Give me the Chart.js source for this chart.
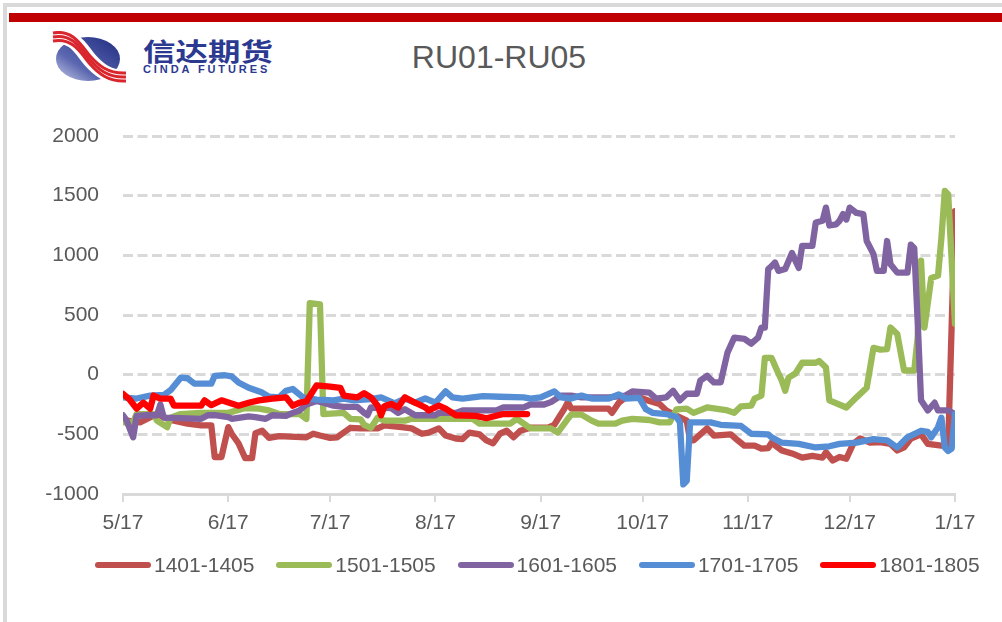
<!DOCTYPE html>
<html>
<head>
<meta charset="utf-8">
<script src="https://cdn.jsdelivr.net/npm/chart.js@4.4.1/dist/chart.umd.min.js"></script>
<style>
body{margin:0;background:#fff;}
#wrap{position:relative;width:1002px;height:622px;overflow:hidden;font-family:"Liberation Sans",Arial,sans-serif;background:#fff;}
#frame{position:absolute;left:3px;top:3px;width:1010px;height:630px;border-left:4px solid #d9d9d9;border-top:4px solid #d9d9d9;}
#bar{position:absolute;left:9px;top:13px;width:993px;height:9px;background:#c00000;}
#title{position:absolute;left:0;width:998px;top:41px;text-align:center;font-size:32px;line-height:32px;color:#595959;}
#logo{position:absolute;left:50px;top:31px;}
#cn{position:absolute;left:143px;top:36px;font-family:"Noto Sans CJK SC",sans-serif;font-weight:bold;font-size:25px;line-height:28px;color:#2b3990;transform:scaleX(1.3);transform-origin:0 0;}
#en{position:absolute;left:143px;top:63px;font-family:"Liberation Sans",Arial,sans-serif;font-weight:bold;font-size:11px;line-height:12px;letter-spacing:2.9px;color:#2b3990;}
canvas{position:absolute;left:0;top:0;}
.lg{position:absolute;top:554px;height:22px;}
.lg .sw{position:absolute;left:0;top:8px;width:56px;height:6px;border-radius:3px;}
.lg .tx{position:absolute;left:59px;top:0;font-size:21px;line-height:22px;color:#595959;white-space:nowrap;}
</style>
</head>
<body>
<div id="wrap">
  <div id="frame"></div>
  <div id="bar"></div>
  <svg id="logo" width="78" height="52" viewBox="0 0 78 52">
    <defs>
      <linearGradient id="g" x1="0" y1="1" x2="1" y2="0">
        <stop offset="0" stop-color="#c9cde8"/>
        <stop offset="0.35" stop-color="#5b67b0"/>
        <stop offset="1" stop-color="#1f2c80"/>
      </linearGradient>
    </defs>
    <ellipse cx="38" cy="28" rx="32" ry="22" fill="url(#g)"/>
    <path d="M3,6 C24,2 32,20 40,29 S58,47 76,46" fill="none" stroke="#fff" stroke-width="15"/>
    <path d="M3,2 C24,-2 32,16 40,25 S58,43 76,42" fill="none" stroke="#d9262e" stroke-width="3"/>
    <path d="M3,6 C24,2 32,20 40,29 S58,47 76,46" fill="none" stroke="#d9262e" stroke-width="3"/>
    <path d="M3,10 C24,6 32,24 40,33 S58,51 76,50" fill="none" stroke="#d9262e" stroke-width="3"/>
  </svg>
  <div id="cn">信达期货</div>
  <div id="en">CINDA FUTURES</div>
  <div id="title">RU01-RU05</div>
  <canvas id="c" width="1002" height="622"></canvas>
  <div id="legend"></div>
</div>
<script>
// series names / colours
var seriesNames = ['1401-1405', '1501-1505', '1601-1605', '1701-1705', '1801-1805']
var seriesColors = ['#C0504D', '#9BBB59', '#8064A2', '#558ED5', '#FF0000']

// x axis: days after 5/17
var tickDays = [0, 31, 61, 92, 123, 153, 184, 214, 245]
var tickLabels = ['5/17', '6/17', '7/17', '8/17', '9/17', '10/17', '11/17', '12/17', '1/17']
var yTicks = [-1000, -500, 0, 500, 1000, 1500, 2000]

var days1401 = [0,5,10,14,19,23,26,27,29,31,32,34,36,38,39,41,43,46,54,56,58,61,63,65,67,70,75,77,82,85,88,90,93,95,98,100,102,105,107,109,111,113,115,117,120,125,127,130,131,132,143,144,146,148,152,155,158,160,162,166,167,168,170,172,174,179,181,183,186,188,190,191,194,197,200,203,206,207,209,211,213,215,217,220,223,226,228,230,232,235,237,241,243,244,245]
var vals1401 = [-380,-400,-330,-380,-410,-425,-425,-690,-690,-440,-495,-575,-700,-700,-490,-470,-530,-515,-525,-495,-510,-530,-525,-485,-445,-450,-450,-425,-440,-450,-495,-485,-450,-510,-535,-540,-485,-500,-550,-575,-495,-470,-525,-470,-445,-445,-420,-285,-230,-285,-285,-320,-235,-190,-190,-220,-245,-300,-330,-385,-550,-550,-500,-450,-510,-500,-550,-595,-595,-620,-615,-570,-635,-660,-695,-680,-695,-650,-720,-690,-705,-580,-535,-570,-565,-580,-635,-610,-535,-500,-580,-595,-590,395,1370]

var days1501 = [0,3,4,9,10,13,14,17,23,31,36,40,43,46,52,54,55,58,59,65,67,70,71,73,75,77,83,85,92,103,105,114,116,118,120,126,128,131,132,135,138,140,145,147,150,155,158,161,163,166,168,172,178,180,182,185,186,188,189,191,193,194,195,196,198,200,204,205,207,208,213,216,219,221,223,225,226,228,230,233,234,235,236,238,240,241,242,243,245]
var vals1501 = [-400,-400,-330,-330,-385,-440,-360,-330,-320,-320,-280,-285,-300,-330,-330,-370,600,590,-330,-320,-370,-375,-420,-445,-360,-385,-385,-370,-370,-370,-410,-410,-370,-410,-450,-450,-485,-370,-335,-335,-385,-410,-410,-385,-370,-380,-400,-400,-290,-285,-320,-275,-300,-320,-265,-260,-200,-175,140,140,10,-50,-135,-25,10,100,100,115,60,-215,-275,-190,-110,225,210,215,395,340,35,35,310,955,395,810,830,1145,1540,1510,425]

var days1601 = [0,1,3,4,7,10,11,12,17,23,25,27,31,32,37,39,42,44,48,50,52,54,57,59,62,65,69,71,72,73,79,81,83,86,92,93,98,100,110,112,118,120,124,126,129,132,135,143,148,150,155,157,160,162,164,166,169,170,172,174,176,178,180,183,185,187,188,189,190,191,192,193,195,197,198,199,200,203,204,206,207,208,210,211,212,213,214,216,218,219,221,222,224,225,226,228,231,232,233,234,235,237,239,240,243,245]
var vals1601 = [-340,-380,-525,-345,-340,-340,-250,-360,-365,-370,-340,-340,-355,-370,-350,-355,-370,-340,-345,-320,-300,-250,-220,-235,-260,-270,-270,-320,-340,-275,-280,-320,-290,-340,-340,-320,-320,-300,-300,-275,-275,-250,-250,-230,-175,-175,-190,-190,-175,-140,-150,-200,-190,-135,-215,-160,-160,-50,-10,-65,-65,185,310,300,260,310,395,395,885,910,940,870,885,1020,955,895,1080,1080,1275,1290,1400,1250,1260,1290,1345,1300,1400,1355,1345,1120,1010,870,870,1120,925,855,855,1090,1060,450,-215,-300,-235,-300,-300,-330]

var days1701 = [0,4,8,12,14,17,19,21,26,27,30,32,34,37,41,43,46,48,50,53,57,62,65,68,73,76,78,80,83,86,89,92,95,97,100,106,111,118,120,123,127,129,132,135,138,143,146,148,152,154,156,160,163,164,165,166,167,173,176,182,185,190,191,194,199,204,208,211,216,221,225,228,231,235,237,238,240,241,242,243,244,245]
var vals1701 = [-190,-200,-175,-170,-130,-25,-30,-75,-75,-10,-5,-15,-65,-110,-150,-185,-190,-135,-120,-190,-210,-215,-200,-215,-205,-190,-215,-240,-200,-235,-200,-235,-140,-190,-200,-180,-185,-190,-200,-190,-140,-190,-200,-175,-200,-200,-165,-200,-195,-290,-320,-330,-355,-400,-920,-890,-400,-400,-420,-430,-495,-500,-525,-570,-580,-610,-600,-580,-570,-540,-550,-610,-525,-470,-480,-525,-440,-360,-610,-640,-620,-330]

var days1801 = [0,2,4,6,8,9,11,14,15,23,24,26,29,34,37,40,44,48,50,52,54,56,57,61,64,65,69,71,73,75,76,77,79,81,83,86,89,90,93,95,98,104,107,112,119]
var vals1801 = [-160,-210,-285,-235,-285,-175,-200,-200,-260,-260,-215,-255,-215,-260,-235,-215,-200,-190,-260,-235,-225,-135,-90,-100,-110,-175,-190,-155,-190,-260,-340,-265,-245,-275,-190,-235,-275,-300,-260,-285,-340,-345,-365,-330,-330]

var seriesDays = [days1401, days1501, days1601, days1701, days1801]
var seriesVals = [vals1401, vals1501, vals1601, vals1701, vals1801]

var datasets = seriesNames.map(function(name, i){
    return {
        label: name,
        data: seriesDays[i].map(function(d, j){ return {x: d, y: seriesVals[i][j]} }),
        borderColor: seriesColors[i],
        backgroundColor: seriesColors[i],
        borderWidth: 6.3,
        borderJoinStyle: 'round',
        borderCapStyle: 'round',
        pointRadius: 0,
        tension: 0,
        fill: false,
        order: seriesNames.length - i
    }
})

var ctx = document.getElementById('c')
var grafico = new Chart(ctx, {
    type: 'line',
    data: { datasets: datasets },
    options: {
        responsive: false,
        animation: false,
        events: [],
        layout: { padding: { left: 20, right: 47, top: 136, bottom: 78 } },
        plugins: { legend: { display: false }, tooltip: { enabled: false }, title: { display: false } },
        scales: {
            x: {
                type: 'linear',
                min: tickDays[0],
                max: tickDays[tickDays.length - 1],
                afterBuildTicks: function(s){ s.ticks = tickDays.map(function(v){ return {value: v} }) },
                afterFit: function(s){ s.height = 50 },
                ticks: {
                    autoSkip: false, maxRotation: 0, padding: 9,
                    color: '#595959',
                    font: { family: '"Liberation Sans", Arial, sans-serif', size: 21 },
                    callback: function(v){ return tickLabels[tickDays.indexOf(v)] }
                },
                grid: { drawOnChartArea: false, drawTicks: true, tickLength: 8, color: '#d9d9d9', lineWidth: 2 },
                border: { display: true, color: '#d9d9d9', width: 3 }
            },
            y: {
                min: yTicks[0],
                max: yTicks[yTicks.length - 1],
                afterBuildTicks: function(s){ s.ticks = yTicks.map(function(v){ return {value: v} }) },
                afterFit: function(s){ s.width = 103 },
                ticks: {
                    padding: 24,
                    color: '#595959',
                    font: { family: '"Liberation Sans", Arial, sans-serif', size: 21 },
                    callback: function(v){ return String(v) }
                },
                grid: { color: '#d9d9d9', lineWidth: 3, drawTicks: false },
                border: { display: false, dash: [10, 4.5] }
            }
        }
    }
})

// legend built from the series arrays
var lg = document.getElementById('legend')
seriesNames.forEach(function(name, i){
    var item = document.createElement('div')
    item.className = 'lg'
    item.style.left = (95 + i * 181.3) + 'px'
    item.innerHTML = '<div class="sw" style="background:' + seriesColors[i] + '"></div><div class="tx">' + name + '</div>'
    lg.appendChild(item)
})
</script>
</body>
</html>
